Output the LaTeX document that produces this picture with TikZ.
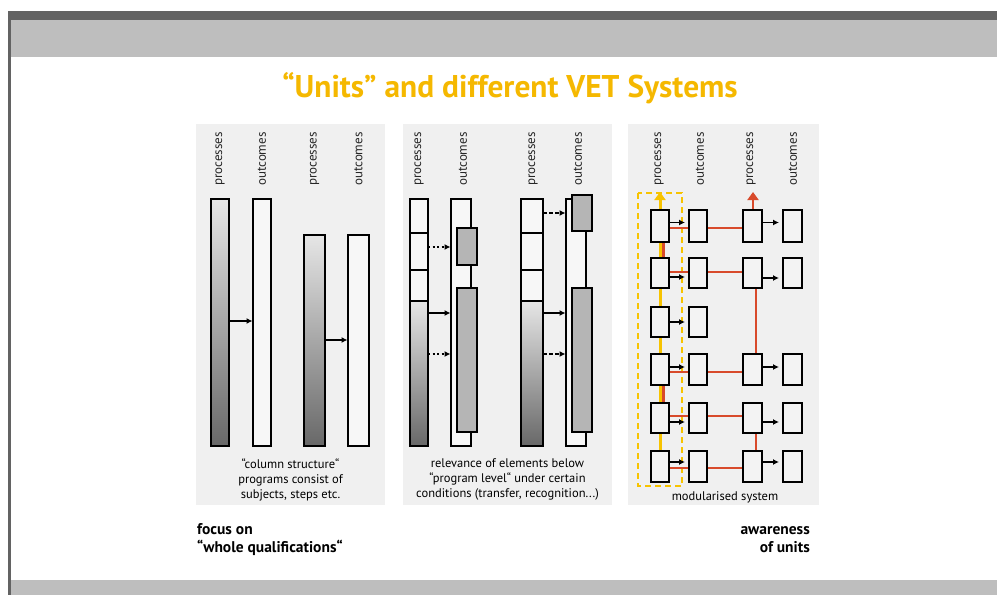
\documentclass[tikz,border=0pt]{standalone}
\usepackage{fontspec}
\setmainfont{PT Sans}
\usetikzlibrary{arrows.meta}
\definecolor{darkbar}{HTML}{636363}
\definecolor{lightbar}{HTML}{BEBEBE}
\definecolor{panelbg}{HTML}{F0F0F0}
\definecolor{titlecol}{HTML}{F5B800}
\definecolor{redline}{HTML}{D84A2B}
\definecolor{yelline}{HTML}{F7C300}
\definecolor{grayfill}{HTML}{B5B5B5}
\definecolor{shadetop}{HTML}{E6E6E6}
\definecolor{shadebot}{HTML}{686868}
\newcommand{\myrect}[6]{\node[#6, minimum width={#4-#2}, minimum height={#5-#3}] (#1) at ({(#2+#4)/2},{(#3+#5)/2}) {};}
\pgfdeclarelayer{back}
\pgfdeclarelayer{mid}
\pgfsetlayers{back,mid,main}
\begin{document}
\begin{tikzpicture}[x=1pt,y=-1pt,
  box/.style={draw=black, line width=2pt, inner sep=0pt, outer sep=0pt, rectangle},
  shadebox/.style={box, top color=shadetop, bottom color=shadebot},
  whitebox/.style={box, fill=white!97!black},
  graybox/.style={box, fill=grayfill},
  mbox/.style={box, fill=panelbg!80!white},
  lbl/.style={rotate=90, anchor=west, inner sep=0pt, text=black!85, font=\fontsize{13}{15}\selectfont},
  caption/.style={align=center, inner sep=0pt, font=\fontsize{12.5}{15}\selectfont},
  arr/.style={line width=1.5pt, -{Latex[length=6pt,width=6pt]}, shorten >=0.5pt},
  darr/.style={arr, dash pattern=on 4pt off 2pt},
  oarr/.style={arr, dash pattern=on 2pt off 2.5pt},
  marr/.style={line width=1.5pt, -{Latex[length=6pt,width=6pt]}, shorten <=1pt, shorten >=4pt},
  rline/.style={draw=redline, line width=2.5pt},
  rarrow/.style={rline, -{Triangle[length=8pt,width=11pt]}},
  yarrow/.style={draw=yelline, line width=3pt, -{Triangle[length=8pt,width=11pt]}},
  ydash/.style={draw=yelline, line width=2pt, dash pattern=on 6pt off 4pt},
  panel/.style={fill=panelbg, draw=none},
  bottomlbl/.style={inner sep=0pt, font=\fontsize{15.5}{17.5}\selectfont\bfseries}
]
\useasboundingbox (0,0) rectangle (997,595);
\begin{pgfonlayer}{back}
% frame bars
\fill[white] (0,0) rectangle (997,595);
\fill[darkbar] (8,11) rectangle (997,20);
\fill[lightbar] (11,20) rectangle (997,57);
\fill[lightbar] (11,580) rectangle (997,595);
\fill[darkbar] (8,11) rectangle (11,595);
% panels
\fill[panel] (196,124) rectangle (385,505);
\fill[panel] (403,124) rectangle (612,505);
\fill[panel] (628,124) rectangle (819,505);
\end{pgfonlayer}

% title
\node[text=titlecol, font=\fontsize{31.4}{34}\selectfont\bfseries] (title) at (510,88) {“Units” and different VET Systems};

%% Panel 1
\myrect{p1a}{211}{199}{229}{446}{shadebox}
\myrect{p1b}{253}{199}{271}{446}{whitebox}
\myrect{p1c}{304}{235}{325}{446}{shadebox}
\myrect{p1d}{348}{235}{369}{446}{whitebox}
\node[lbl] (l1a) at (220,186) {processes};
\node[lbl] (l1b) at (262,186) {outcomes};
\node[lbl] (l1c) at (314.5,186) {processes};
\node[lbl] (l1d) at (358.5,186) {outcomes};
\draw[arr] (p1a.east |- 0,321) -- (p1b.west |- 0,321);
\draw[arr] (p1c.east |- 0,340) -- (p1d.west |- 0,340);
\node[caption] (cap1) at (290.5,479.5) {“column structure“\\programs consist of\\subjects, steps etc.};

%% Panel 2
\myrect{q1s1}{410}{199}{428}{233}{whitebox}
\myrect{q1s2}{410}{233}{428}{270}{whitebox}
\myrect{q1s3}{410}{270}{428}{301}{whitebox}
\myrect{q1s4}{410}{301}{428}{446}{shadebox}
\myrect{q1o}{451}{199}{471}{446}{whitebox}
\myrect{q1g1}{457}{228}{477}{265}{graybox}
\myrect{q1g2}{457}{288}{477}{432}{graybox}
\myrect{q2s1}{521}{199}{543}{233}{whitebox}
\myrect{q2s2}{521}{233}{543}{270}{whitebox}
\myrect{q2s3}{521}{270}{543}{301}{whitebox}
\myrect{q2s4}{521}{301}{543}{446}{shadebox}
\myrect{q2o}{566}{199}{586}{446}{whitebox}
\myrect{q2g1}{572}{195}{592}{231}{graybox}
\myrect{q2g2}{572}{288}{592}{432}{graybox}
\node[lbl] (l2a) at (419,186) {processes};
\node[lbl] (l2b) at (463,186) {outcomes};
\node[lbl] (l2c) at (533,186) {processes};
\node[lbl] (l2d) at (578,186) {outcomes};
\draw[oarr] (q1s2.east |- 0,247) -- (q1o.west |- 0,247);
\draw[arr] (q1s4.east |- 0,313) -- (q1o.west |- 0,313);
\draw[oarr] (q1s4.east |- 0,354) -- (q1o.west |- 0,354);
\draw[darr] (q2s1.east |- 0,213) -- (q2o.west |- 0,213);
\draw[arr] (q2s4.east |- 0,313) -- (q2o.west |- 0,313);
\draw[darr] (q2s4.east |- 0,354) -- (q2o.west |- 0,354);
\node[caption] (cap2) at (507.5,479.5) {relevance of elements below\\“program level“ under certain\\conditions (transfer, recognition...)};

%% Panel 3
\foreach \r/\t/\b in {1/210/242, 2/258/288, 3/307/337, 4/354/385, 5/403/433, 6/451/482}{
  \myrect{A\r}{651}{\t}{669}{\b}{mbox}
  \myrect{B\r}{689}{\t}{707}{\b}{mbox}
}
\foreach \r/\t/\b in {1/210/242, 2/258/288, 4/354/385, 5/403/433, 6/451/482}{
  \myrect{C\r}{743}{\t}{762}{\b}{mbox}
  \myrect{D\r}{783}{\t}{802}{\b}{mbox}
}
\coordinate (ytop) at (660,192);
\coordinate (rtop) at (753,192);
\begin{pgfonlayer}{mid}
\draw[ydash] (638,193) rectangle (682,486);
\draw[yarrow] (A6.center) -- (ytop);
\draw[rline] ([yshift=-2]A1.center) -- ([yshift=-2]C1.center);
\draw[rline] ([yshift=1]A2.center) -- ([yshift=1]C2.center);
\draw[rline] ([yshift=-2.5]A4.center) -- ([yshift=-2.5]C4.center);
\draw[rline] ([yshift=2]A5.center) -- ([yshift=2]C5.center);
\draw[rline] ([yshift=-1.5]A6.center) -- ([yshift=-1.5]C6.center);
\draw[rline] ([xshift=3.5]A1.center) -- ([xshift=3.5]A2.center);
\draw[rline] ([xshift=3.5]A4.center) -- ([xshift=3.5]A5.center);
\draw[rline] ([xshift=3.5]C2.center) -- ([xshift=3.5]C4.center);
\draw[rline] ([xshift=3.5]C5.center) -- ([xshift=3.5]C6.center);
\draw[rarrow] ([xshift=0.5]C1.center) -- (rtop);
\end{pgfonlayer}
\foreach \r/\y in {1/222.5, 2/277, 3/322, 4/367, 5/422, 6/462}{
  \draw[marr] (A\r.east |- 0,\y) -- (B\r.west |- 0,\y);
}
\foreach \r/\y in {1/222.5, 2/278, 4/367, 5/422, 6/462}{
  \draw[marr] (C\r.east |- 0,\y) -- (D\r.west |- 0,\y);
}
\node[lbl] (l3a) at (659,186) {processes};
\node[lbl] (l3b) at (700,186) {outcomes};
\node[lbl] (l3c) at (751,186) {processes};
\node[lbl] (l3d) at (793,186) {outcomes};
\node[caption] (cap3) at (725,497) {modularised system};

%% bottom labels
\node[bottomlbl, anchor=west, align=left] (foc) at (197,539.5) {focus on\\“whole qualifications“};
\node[bottomlbl, anchor=east, align=right] (awa) at (810,539.5) {awareness\\of units};
\end{tikzpicture}
\end{document}
